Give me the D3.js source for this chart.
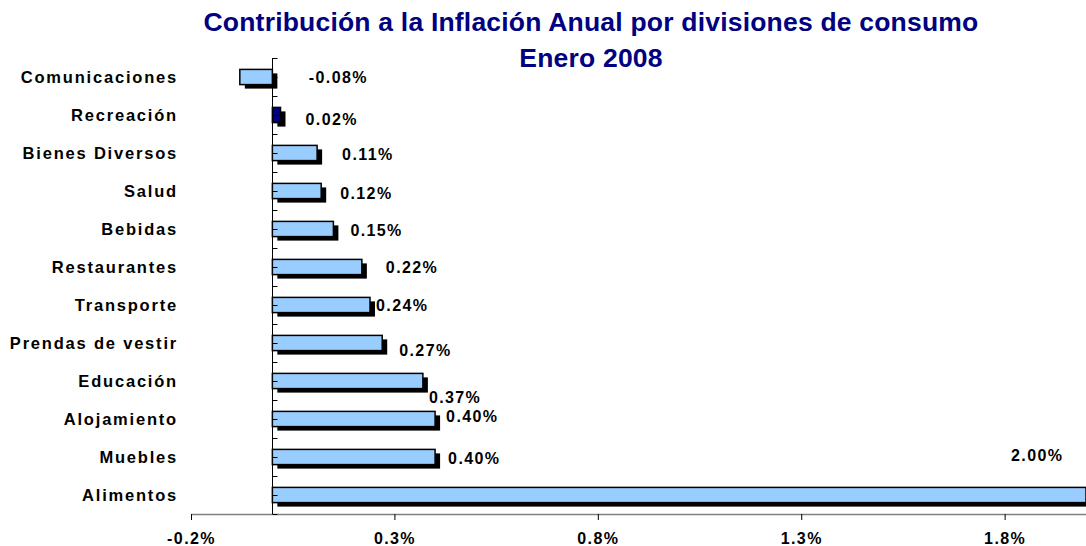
<!DOCTYPE html>
<html>
<head>
<meta charset="utf-8">
<script src="https://cdn.jsdelivr.net/npm/d3@7/dist/d3.min.js"></script>
<style>
  html, body { margin: 0; padding: 0; background: #fff; }
  svg { display: block; font-family: "Liberation Sans", Arial, sans-serif; }
  .cat, .val, .xtick text { font-weight: bold; font-size: 16px; fill: #000; letter-spacing: 1.4px; }
  .cat { font-size: 16.5px; letter-spacing: 1.8px; }
  .title { font-weight: bold; font-size: 26.5px; fill: #000080; letter-spacing: 0.2px; }
</style>
</head>
<body>
<svg id="chart" width="1086" height="546"></svg>
<script>
// Contribution to annual inflation, January 2008 (top to bottom as drawn)
const categories = [
  'Comunicaciones', 'Recreación', 'Bienes Diversos', 'Salud', 'Bebidas',
  'Restaurantes', 'Transporte', 'Prendas de vestir', 'Educación',
  'Alojamiento', 'Muebles', 'Alimentos',
];
const values = [-0.08, 0.02, 0.11, 0.12, 0.15, 0.22, 0.24, 0.27, 0.37, 0.40, 0.40, 2.00];
const xTickValues = [-0.2, 0.3, 0.8, 1.3, 1.8];
const titleLines = ['Contribución a la Inflación Anual por divisiones de consumo', 'Enero 2008'];

// hand-placed data labels in the original: offset (px) from bar end / bar centre
const labelNudge = [
  [69, 0], [25, 4], [25, 1.5], [19, 2], [17, 1.5], [24, 0.5],
  [6, 0.5], [17, 7.5], [6, 16.5], [11, -2.5], [13, 1.5], [-75, -39.5],
];

const svg = d3.select('#chart');

const x = d3.scaleLinear().domain([-0.2, 2.0]).range([191, 1086]);
const y = d3.scaleBand().domain(categories).range([58, 514])
  .paddingInner(0.6).paddingOuter(0.3);
const step = y.step();
const x0 = Math.round(x(0)) + 0.5;
const fmt = (d) => d.toFixed(1) + '%';

// title
svg.selectAll('text.title').data(titleLines).enter().append('text')
  .attr('class', 'title')
  .attr('x', 591)
  .attr('y', (d, i) => 31 + i * 36)
  .attr('text-anchor', 'middle')
  .text((d) => d);

const rows = categories.map((c, i) => ({ c, v: values[i], i }));

// shadows first, then bars on top
const SH = { dx: 5, dy: 4 };
svg.append('g').selectAll('rect').data(rows).enter().append('rect')
  .attr('x', (d) => Math.min(x(0), x(d.v)) + SH.dx)
  .attr('y', (d) => y(d.c) + SH.dy)
  .attr('width', (d) => Math.abs(x(d.v) - x(0)))
  .attr('height', y.bandwidth())
  .attr('fill', '#000');

svg.append('g').selectAll('rect').data(rows).enter().append('rect')
  .attr('x', (d) => Math.min(x(0), x(d.v)))
  .attr('y', (d) => y(d.c))
  .attr('width', (d) => Math.abs(x(d.v) - x(0)))
  .attr('height', y.bandwidth())
  .attr('fill', (d) => d.c === 'Recreación' ? '#000080' : '#99CCFF')
  .attr('stroke', '#000')
  .attr('stroke-width', 1.5);

// x axis
const xAxis = svg.append('g')
  .attr('class', 'xtick')
  .attr('transform', 'translate(0,514)')
  .call(d3.axisBottom(x).tickValues(xTickValues).tickFormat(fmt)
    .tickSizeInner(6).tickSizeOuter(0));
xAxis.select('.domain').attr('stroke', '#808080').attr('stroke-width', 1.5);
xAxis.selectAll('.tick line').attr('stroke', '#000');
xAxis.selectAll('.tick text').attr('font-size', null).attr('font-family', null)
  .attr('y', 24).attr('dy', '0.35em');

// y axis: vertical line at zero with small ticks to the right (band edges and centres)
const yAx = svg.append('g');
yAx.append('line')
  .attr('x1', x0).attr('x2', x0)
  .attr('y1', y.range()[0]).attr('y2', y.range()[1])
  .attr('stroke', '#000');
const tickYs = d3.range(0, categories.length * 2 + 1).map((k) => y.range()[0] + k * step / 2);
yAx.selectAll('line.t').data(tickYs).enter().append('line')
  .attr('class', 't')
  .attr('x1', x0).attr('x2', x0 + 5)
  .attr('y1', (d) => Math.round(d) + 0.5).attr('y2', (d) => Math.round(d) + 0.5)
  .attr('stroke', '#000');

// category labels
svg.append('g').selectAll('text').data(rows).enter().append('text')
  .attr('class', 'cat')
  .attr('x', 178)
  .attr('y', (d) => y(d.c) + y.bandwidth() / 2)
  .attr('dy', '0.35em')
  .attr('text-anchor', 'end')
  .text((d) => d.c);

// value labels
svg.append('g').selectAll('text').data(rows).enter().append('text')
  .attr('class', 'val')
  .attr('x', (d) => x(d.v) + labelNudge[d.i][0])
  .attr('y', (d) => y(d.c) + y.bandwidth() / 2 + labelNudge[d.i][1])
  .attr('dy', '0.35em')
  .text((d) => d.v.toFixed(2) + '%');
</script>
</body>
</html>
